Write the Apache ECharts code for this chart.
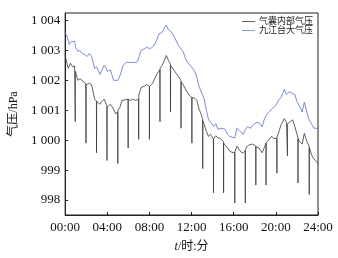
<!DOCTYPE html>
<html>
<head>
<meta charset="utf-8">
<script src="https://cdn.jsdelivr.net/npm/echarts@6/dist/echarts.min.js"></script>
<style>
html, body { margin: 0; padding: 0; background: #fff; }
#chart { width: 338px; height: 258px; }
</style>
</head>
<body>
<div id="chart"></div>
<script>
// 时间(小时)与气压值
var innerTime = [0, 0.15, 0.3, 0.5, 0.7, 0.9, 0.95, 0.96, 0.97, 1.2, 1.4, 1.6, 1.95, 1.98, 2.0, 2.3, 2.5, 2.8,
    2.97, 2.98, 2.99, 3.3, 3.5, 3.7, 3.96, 3.97, 3.98, 4.3, 4.5, 4.8, 4.99, 5.0, 5.01, 5.2, 5.4, 5.7,
    5.97, 5.98, 5.99, 6.2, 6.4, 6.7, 6.97, 6.98, 6.99, 7.2, 7.5, 7.7, 7.99, 8.0, 8.01, 8.3, 8.7,
    8.99, 9.0, 9.01, 9.2, 9.4, 9.6, 9.8, 9.99, 10.0, 10.01, 10.3, 10.5, 10.7, 10.99, 11.0, 11.01,
    11.2, 11.5, 11.8, 12.02, 12.03, 12.04, 12.3, 12.5, 12.7, 12.9, 13.05, 13.06, 13.07, 13.2, 13.4,
    13.6, 13.8, 14.07, 14.08, 14.09, 14.3, 14.5, 14.7, 15.03, 15.04, 15.05, 15.2, 15.4, 15.6, 15.8,
    16.09, 16.1, 16.11, 16.3, 16.5, 16.7, 16.9, 17.09, 17.1, 17.11, 17.3, 17.5, 17.8, 18.09, 18.1,
    18.11, 18.4, 18.7, 18.9, 19.06, 19.07, 19.08, 19.3, 19.6, 19.8, 20.09, 20.1, 20.11, 20.3, 20.5,
    20.8, 21.0, 21.09, 21.1, 21.11, 21.3, 21.6, 21.8, 22.09, 22.1, 22.11, 22.2, 22.5, 22.7, 22.9,
    23.16, 23.17, 23.18, 23.4, 23.6, 23.8, 24.0];
var innerValue = [1002.83, 1002.6, 1002.4, 1002.57, 1002.45, 1002.48, 1002.45, 1000.62, 1002.3, 1002.0, 1002.05, 1002.0, 1001.9, 999.9, 1001.86, 1001.9, 1001.86, 1001.37,
    1001.3, 999.58, 1001.3, 1001.2, 1001.3, 1001.37, 1001.15, 999.32, 1001.1, 1001.2, 1001.1, 1000.88, 1000.95, 999.22, 1001.0, 1001.1, 1001.33, 1001.35,
    1001.37, 999.74, 1001.37, 1001.33, 1001.37, 1001.33, 1001.37, 1000.03, 1001.5, 1001.76, 1001.8, 1001.86, 1001.8, 1000.03, 1001.8, 1001.9, 1002.2,
    1002.35, 1000.62, 1002.4, 1002.5, 1002.65, 1002.83, 1002.67, 1002.55, 1000.94, 1002.5, 1002.35, 1002.25, 1002.15, 1002.0, 1000.4, 1001.95,
    1001.86, 1001.65, 1001.5, 1001.43, 999.9, 1001.43, 1001.4, 1001.33, 1001.05, 1000.88, 1000.7, 999.05, 1000.65, 1000.52, 1000.3,
    1000.13, 1000.2, 1000.03, 998.24, 1000.05, 1000.15, 1000.07, 1000.07, 999.95, 998.24, 999.9, 999.9, 999.75, 999.64, 999.6,
    999.58, 997.9, 999.6, 999.8, 999.7, 999.6, 999.58, 999.65, 997.9, 999.7, 999.8, 999.85, 999.87, 999.8, 998.5,
    999.78, 999.74, 999.58, 999.75, 999.9, 998.5, 999.92, 1000.0, 1000.13, 1000.05, 1000.07, 998.9, 1000.1, 1000.3, 1000.52,
    1000.72, 1000.6, 1000.55, 999.48, 1000.55, 1000.6, 1000.68, 1000.45, 1000.1, 998.57, 1000.05, 999.97, 999.87, 1000.23, 1000.0,
    999.8, 998.18, 999.75, 999.5, 999.38, 999.3, 999.22];

var stationTime = [0, 0.2, 0.4, 0.6, 0.9, 1.0, 1.2, 1.4, 1.6, 1.9, 2.1, 2.3, 2.5, 2.8, 3.0, 3.3, 3.5, 3.7, 3.9, 4.0,
    4.3, 4.6, 5.0, 5.2, 5.5, 5.8, 6.1, 6.4, 6.7, 6.9, 7.2, 7.5, 7.7, 8.1, 8.4, 8.7, 8.9, 9.2, 9.4, 9.6,
    9.8, 10.0, 10.2, 10.5, 10.7, 11.0, 11.2, 11.4, 11.6, 12.0, 12.3, 12.5, 12.7, 13.0, 13.2, 13.4, 13.6,
    13.8, 14.1, 14.3, 14.5, 14.8, 15.2, 15.4, 15.6, 16.1, 16.3, 16.6, 16.9, 17.1, 17.3, 17.6, 17.8, 18.0,
    18.2, 18.5, 18.7, 18.9, 19.1, 19.4, 19.6, 19.8, 20.0, 20.3, 20.5, 20.7, 20.8, 21.0, 21.2, 21.4, 21.6,
    21.8, 22.0, 22.2, 22.5, 22.7, 22.9, 23.1, 23.3, 23.6, 23.8, 24.0];
var stationValue = [1003.6, 1003.45, 1003.2, 1003.3, 1003.3, 1003.1, 1002.97, 1003.0, 1002.9, 1002.85, 1002.8, 1002.9, 1002.8, 1002.4, 1002.45, 1002.2, 1002.35, 1002.5, 1002.4, 1002.3,
    1002.35, 1002.0, 1002.0, 1002.15, 1002.5, 1002.6, 1002.6, 1002.6, 1002.6, 1002.65, 1003.0, 1003.05, 1003.1, 1003.06, 1003.15, 1003.35, 1003.55, 1003.6, 1003.75, 1003.85,
    1003.7, 1003.65, 1003.55, 1003.35, 1003.2, 1003.05, 1002.96, 1002.75, 1002.6, 1002.45, 1002.3, 1002.1, 1001.8, 1001.55, 1001.37, 1001.0, 1000.7,
    1000.6, 1000.46, 1000.55, 1000.36, 1000.4, 1000.36, 1000.2, 1000.13, 1000.07, 1000.4, 1000.3, 1000.2, 1000.35, 1000.45, 1000.4, 1000.5, 1000.55,
    1000.6, 1000.55, 1000.45, 1000.7, 1000.85, 1000.95, 1001.04, 1001.1, 1001.17, 1001.35, 1001.43, 1001.6, 1001.7, 1001.53, 1001.6, 1001.6, 1001.55,
    1001.53, 1001.3, 1001.17, 1000.94, 1001.27, 1001.0, 1000.72, 1000.6, 1000.4, 1000.4, 1000.36];

var seriesNames = ['气囊内部气压', '九江台大气压'];
var yTicks = [998, 999, 1000, 1001, 1002, 1003, 1004];

function pairs(t, v) {
    var out = [];
    for (var i = 0; i < t.length; i++) out.push([t[i], v[i]]);
    return out;
}

var serif = '"Liberation Serif", "Noto Sans CJK SC", serif';
var chart = echarts.init(document.getElementById('chart'));

var option = {
    animation: false,
    grid: {
        left: 52, right: 20, top: 13, bottom: 38,
        show: true, borderColor: '#222', borderWidth: 1
    },
    legend: {
        orient: 'vertical',
        right: 20, top: 12,
        itemGap: 0,
        itemWidth: 13, itemHeight: 1,
        icon: 'rect',
        textStyle: { fontSize: 9, color: '#222', fontFamily: serif, padding: [0, 0, 0, -1] },
        data: [
            { name: seriesNames[0], itemStyle: { color: '#666' } },
            { name: seriesNames[1], itemStyle: { color: '#8c9ce0' } }
        ]
    },
    xAxis: {
        type: 'value',
        min: 0, max: 24, interval: 4,
        name: '{i|t}/时:分',
        nameLocation: 'middle',
        nameGap: 26,
        nameTextStyle: {
            fontSize: 12, color: '#111', fontFamily: serif,
            rich: { i: { fontStyle: 'italic', fontSize: 12, fontFamily: serif, color: '#111' } }
        },
        axisLine: { lineStyle: { color: '#222', width: 1 } },
        axisTick: { inside: true, length: 3, lineStyle: { color: '#222' } },
        splitLine: { show: false },
        axisLabel: {
            margin: 6, fontSize: 13, color: '#111', fontFamily: serif,
            formatter: function (v) { return (v < 10 ? '0' : '') + v + ':00'; }
        }
    },
    yAxis: {
        type: 'value',
        min: 997.5, max: 1004.25,
        name: '气压/hPa',
        nameLocation: 'middle',
        nameGap: 39,
        nameTextStyle: { fontSize: 12, color: '#111', fontFamily: serif },
        axisLine: { show: true, lineStyle: { color: '#222', width: 1 } },
        axisTick: { inside: true, length: 3, customValues: yTicks, lineStyle: { color: '#222' } },
        splitLine: { show: false },
        axisLabel: {
            margin: 5, fontSize: 13, color: '#111', fontFamily: serif,
            customValues: yTicks,
            formatter: function (v) {
                var s = String(Math.round(v));
                return s.length > 3 ? s.slice(0, s.length - 3) + ' ' + s.slice(-3) : s;
            }
        }
    },
    series: [
        {
            name: seriesNames[0],
            type: 'line',
            symbol: 'none',
            data: pairs(innerTime, innerValue),
            itemStyle: { color: '#333' },
            lineStyle: { color: '#3a3a3a', width: 0.8 }
        },
        {
            name: seriesNames[1],
            type: 'line',
            symbol: 'none',
            data: pairs(stationTime, stationValue),
            itemStyle: { color: '#5b6fd0' },
            lineStyle: { color: '#5b6fd0', width: 0.8 }
        }
    ]
};
chart.setOption(option);
</script>
</body>
</html>
